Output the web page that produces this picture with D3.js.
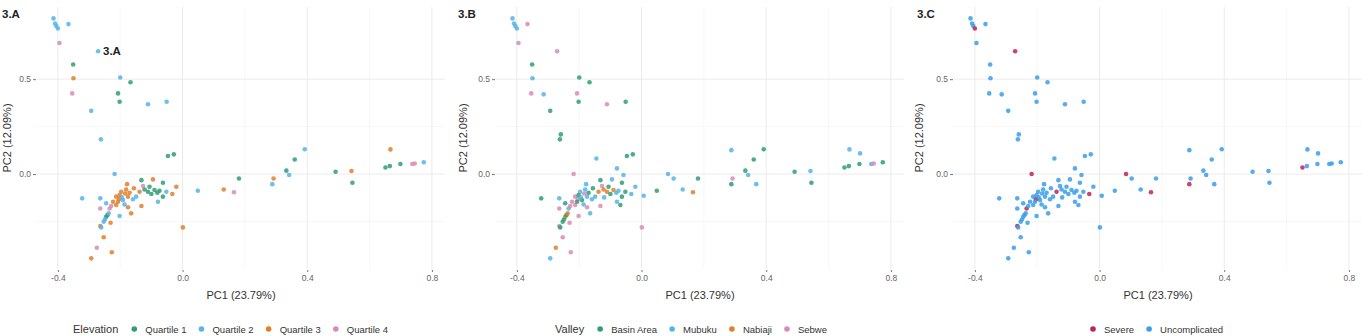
<!DOCTYPE html>
<html><head><meta charset="utf-8">
<script src="https://cdn.jsdelivr.net/npm/d3@7"></script>
<style>
html,body{margin:0;padding:0;background:#fff;}
svg{display:block;font-family:"Liberation Sans",Arial,sans-serif;}
</style></head>
<body>
<svg id="chart" width="1362" height="336"></svg>
<script>
// ---- data ----
const pc1 = [-0.414,-0.409,-0.405,-0.400,-0.366,-0.395,-0.271,-0.351,-0.350,-0.354,-0.314,-0.200,-0.167,-0.207,-0.202,-0.111,-0.051,-0.293,-0.259,-0.262,
  0.007,0.049,0.085,0.103,0.132,0.165,0.181,0.288,0.292,0.288,0.333,0.342,0.360,0.368,0.392,0.491,0.542,0.545,0.651,0.665,0.667,0.699,0.701,0.737,0.745,0.774,0.001,
  -0.145,-0.047,-0.028,-0.079,-0.218,-0.058,-0.178,-0.132,-0.095,-0.063,-0.127,-0.106,-0.138,-0.111,-0.090,-0.074,-0.052,-0.063,-0.033,-0.322,-0.264,-0.245,-0.264,-0.234,-0.204,-0.175,-0.165,-0.202,-0.132,-0.079,-0.068,-0.264,-0.253,-0.245,-0.231,-0.253,-0.275,-0.227,-0.293,-0.249,-0.241,-0.237,-0.261,
  -0.197,-0.184,-0.213,-0.191,-0.175,-0.223,-0.213,-0.186,-0.159,-0.170,-0.202,-0.229,-0.195,-0.207,-0.181,-0.149,-0.156,-0.120,-0.100,-0.081,-0.122,-0.020];
const pc2 = [0.820,0.793,0.780,0.767,0.790,0.690,0.647,0.577,0.505,0.425,0.420,0.509,0.484,0.425,0.381,0.368,0.381,0.333,0.209,0.183,
  -0.114,-0.088,0.000,-0.023,-0.081,-0.096,-0.023,0.126,-0.023,-0.053,0.018,-0.005,0.077,-0.053,0.131,0.012,0.016,-0.046,0.035,0.042,0.130,0.053,0.109,0.053,0.056,0.062,-0.281,
  0.082,0.095,0.104,0.030,0.000,-0.005,-0.053,-0.032,-0.028,-0.046,-0.063,-0.067,-0.093,-0.093,-0.084,-0.088,-0.093,-0.119,-0.105,-0.128,-0.128,-0.154,-0.181,-0.181,-0.132,-0.175,-0.207,-0.221,-0.168,-0.146,-0.163,-0.274,-0.251,-0.225,-0.256,-0.333,-0.388,-0.412,-0.444,-0.239,-0.216,-0.207,-0.281,
  -0.093,-0.102,-0.119,-0.137,-0.119,-0.146,-0.163,-0.160,-0.133,-0.098,-0.111,-0.168,-0.123,-0.146,-0.081,-0.119,-0.075,-0.123,-0.105,-0.098,-0.081,-0.067];
// elevation quartile index (1-4), 0 = missing (not drawn in 3.A)
const elevationIdx = [2,2,2,2,2,4,2,1,3,4,0,2,1,1,1,2,2,2,0,2,
  0,2,0,0,3,4,1,0,3,2,1,2,1,0,2,1,3,1,1,1,3,1,0,4,4,2,3,
  0,1,1,0,2,0,3,1,3,1,4,1,3,1,1,1,2,1,3,2,2,2,4,4,3,3,3,2,3,2,0,3,2,1,3,3,4,3,3,2,1,2,2,
  3,3,3,2,3,3,3,2,2,3,3,4,2,3,3,2,3,0,1,1,1,3];
// valley codes: B = Basin Area, M = Mubuku, N = Nabiaji, S = Sebwe
const valleyIdx = ("MMMMSSSBMSMBBSBSBBBB" + "MBMMMNBMSBBMBMBBMBBBMBMMSBS" +
  "MBBMSMMBMBSBNNNMBBMBMBSMSSMSSMBSBNSSNSMBBNB" + "MSSBMSSMMBBSMBMMBMBMNM").split("");
// severity codes: S = Severe, U = Uncomplicated
const severityIdx = ("UUUSUUSUUUUUUUUUUUUU" + "UUSUUSUUUSUUUUUUUUSUUUUUUUU" +
  "UUUUSUUUUUUUSUUUUUSUUUUSSUUUUUUSUUUUUUUUUUU" + "UUUUUUUUUUUUUUUUUUUUUU").split("");

const elevationLevels = ["Quartile 1","Quartile 2","Quartile 3","Quartile 4"];
const valleyLevels = ["Basin Area","Mubuku","Nabiaji","Sebwe"];
const valleyCodes = ["B","M","N","S"];
const severityLevels = ["Severe","Uncomplicated"];
const severityCodes = ["S","U"];
const xTicks = [-0.4,0.0,0.4,0.8];
const yTicks = [0.0,0.5];
const xMinor = [-0.2,0.2,0.6];
const yMinor = [-0.25,0.25];

const fourColors = ["#2E9E74","#56B4E9","#E07F2C","#D98BB6"];
const sevColors = ["#BE2358","#3A9FE8"];

const rows = pc1.map((x,i)=>({
  x, y: pc2[i],
  elev: elevationIdx[i] ? elevationLevels[elevationIdx[i]-1] : null,
  valley: valleyLevels[valleyCodes.indexOf(valleyIdx[i])],
  sev: severityLevels[severityCodes.indexOf(severityIdx[i])]
}));

const panels = [
  {left:37, title:"3.A", titleX:2, ytitleX:7, key:"elev", levels:elevationLevels, colors:fourColors, legendTitle:"Elevation", legendX:73},
  {left:496, title:"3.B", titleX:458, ytitleX:463, key:"valley", levels:valleyLevels, colors:fourColors, legendTitle:"Valley", legendX:555},
  {left:954, title:"3.C", titleX:917, ytitleX:919, key:"sev", levels:severityLevels, colors:sevColors, legendTitle:null, legendX:1089}
];

const svg = d3.select("#chart");
const W = 408, plotTop = 7, plotBottom = 269;

panels.forEach(p=>{
  const g = svg.append("g");
  const x = d3.scaleLinear().domain([-0.467,0.842]).range([p.left,p.left+W]);
  const y = d3.scaleLinear().domain([-0.5,0.88]).range([plotBottom,plotTop]);
  const color = d3.scaleOrdinal().domain(p.levels).range(p.colors);

  // grid
  g.selectAll(".vmin").data(xMinor).join("line")
    .attr("x1",d=>x(d)).attr("x2",d=>x(d)).attr("y1",plotTop).attr("y2",plotBottom)
    .attr("stroke","#f2f2f2").attr("stroke-width",0.6);
  g.selectAll(".hmin").data(yMinor).join("line")
    .attr("y1",d=>y(d)).attr("y2",d=>y(d)).attr("x1",p.left).attr("x2",p.left+W)
    .attr("stroke","#f2f2f2").attr("stroke-width",0.6);
  g.selectAll(".vmaj").data(xTicks).join("line")
    .attr("x1",d=>x(d)).attr("x2",d=>x(d)).attr("y1",plotTop).attr("y2",plotBottom)
    .attr("stroke","#ebebeb").attr("stroke-width",1);
  g.selectAll(".hmaj").data(yTicks).join("line")
    .attr("y1",d=>y(d)).attr("y2",d=>y(d)).attr("x1",p.left).attr("x2",p.left+W)
    .attr("stroke","#ebebeb").attr("stroke-width",1);

  // axes
  const xa = g.append("g").attr("transform",`translate(0,${plotBottom+1})`)
    .call(d3.axisBottom(x).tickValues(xTicks).tickFormat(d=>d.toFixed(1)).tickSize(2).tickPadding(3));
  const ya = g.append("g").attr("transform",`translate(${p.left-1},0)`)
    .call(d3.axisLeft(y).tickValues(yTicks).tickFormat(d=>d.toFixed(1)).tickSize(3).tickPadding(2));
  [xa,ya].forEach(a=>{
    a.select(".domain").remove();
    a.selectAll(".tick line").attr("stroke","#555").attr("stroke-width",0.8);
    a.selectAll(".tick text").attr("fill","#666").attr("font-size","8.5px").attr("font-family","Liberation Sans, Arial, sans-serif");
  });

  // points
  g.append("g").selectAll("circle")
    .data(rows.filter(d=>d[p.key]!==null))
    .join("circle")
    .attr("cx",d=>x(d.x)).attr("cy",d=>y(d.y)).attr("r",2.3)
    .attr("fill",d=>color(d[p.key])).attr("fill-opacity",0.85);

  // titles
  g.append("text").attr("x",p.titleX).attr("y",18).text(p.title)
    .attr("font-size","11.5px").attr("font-weight","bold").attr("fill","#222");
  g.append("text").attr("x",(p.left+p.left+W)/2).attr("y",299).attr("text-anchor","middle")
    .text("PC1 (23.79%)").attr("font-size","11px").attr("fill","#333");
  g.append("text").attr("transform",`translate(${p.ytitleX+4},${(plotTop+plotBottom)/2}) rotate(-90)`)
    .attr("text-anchor","middle").text("PC2 (12.09%)").attr("font-size","11px").attr("fill","#333");

  // legend
  const lg = g.append("g").attr("transform","translate(0,329)");
  let cx = p.legendX;
  if (p.legendTitle){
    const t = lg.append("text").attr("x",cx).attr("y",4).text(p.legendTitle)
      .attr("font-size","11px").attr("fill","#333");
    cx += t.node().getComputedTextLength() + 16;
  } else cx += 4;
  p.levels.forEach((lv,i)=>{
    lg.append("circle").attr("cx",cx).attr("cy",0).attr("r",2.8).attr("fill",p.colors[i]);
    const t = lg.append("text").attr("x",cx+11).attr("y",3.5).text(lv)
      .attr("font-size","9.5px").attr("fill","#333");
    cx += 11 + t.node().getComputedTextLength() + 15;
  });
});

// stray annotation inside panel A
svg.append("text").attr("x",103).attr("y",55).text("3.A")
  .attr("font-size","11.5px").attr("font-weight","bold").attr("fill","#222");
</script>
</body></html>
